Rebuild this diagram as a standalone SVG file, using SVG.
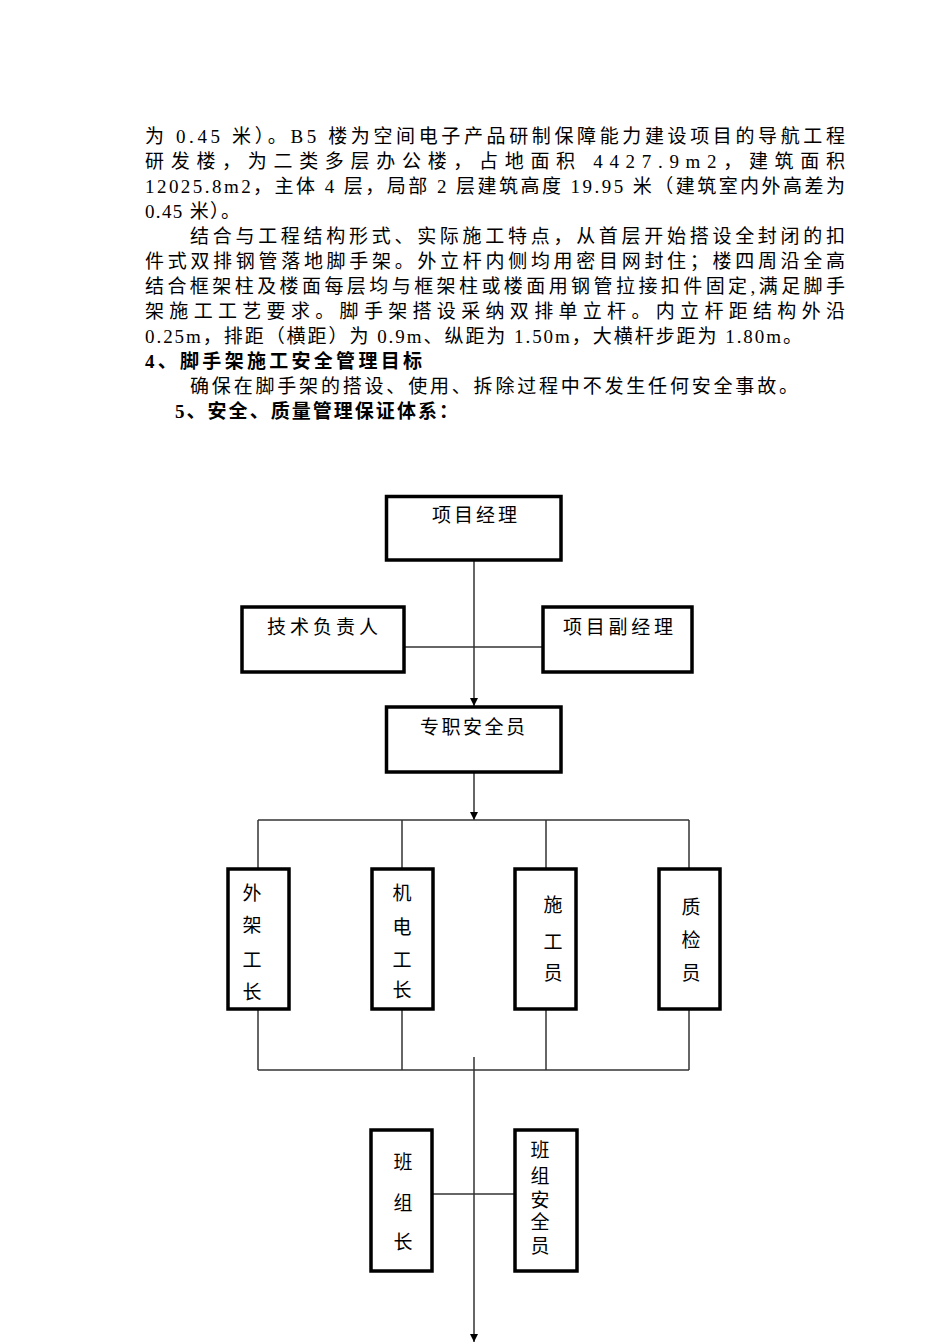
<svg xmlns="http://www.w3.org/2000/svg" width="950" height="1344" viewBox="0 0 950 1344">
<style>
.p{font-family:"Liberation Serif","Noto Sans CJK SC",serif;font-size:19px;fill:#000}
.b{font-weight:bold}
.n{fill:#fff;stroke:#000;stroke-width:3.5}
.t{font-family:"Liberation Serif","Noto Sans CJK SC",serif;font-size:19px;fill:#000}
.v{font-family:"Liberation Serif","Noto Sans CJK SC",serif;font-size:19px;fill:#000;text-anchor:middle}
.c{stroke:#333;stroke-width:1.5;fill:none}
</style>
<defs>
<marker id="ah" viewBox="0 0 10 10" refX="10" refY="5" markerWidth="8" markerHeight="8" markerUnits="userSpaceOnUse" orient="auto">
<path d="M0,0 L10,5 L0,10 Z" fill="#000"/>
</marker>
</defs>
<rect width="950" height="1344" fill="#fff"/>
<g id="body-text">
<text class="p" x="145" y="143" textLength="700" lengthAdjust="spacing">为 0.45 米）。B5 楼为空间电子产品研制保障能力建设项目的导航工程</text>
<text class="p" x="145" y="168" textLength="700" lengthAdjust="spacing">研发楼，为二类多层办公楼，占地面积 4427.9m2，建筑面积</text>
<text class="p" x="145" y="193" textLength="700" lengthAdjust="spacing">12025.8m2，主体 4 层，局部 2 层建筑高度 19.95 米（建筑室内外高差为</text>
<text class="p" x="145" y="218" textLength="95" lengthAdjust="spacing">0.45 米）。</text>
<text class="p" x="190" y="243" textLength="655" lengthAdjust="spacing">结合与工程结构形式、实际施工特点，从首层开始搭设全封闭的扣</text>
<text class="p" x="145" y="268" textLength="700" lengthAdjust="spacing">件式双排钢管落地脚手架。外立杆内侧均用密目网封住；楼四周沿全高</text>
<text class="p" x="145" y="293" textLength="700" lengthAdjust="spacing">结合框架柱及楼面每层均与框架柱或楼面用钢管拉接扣件固定,满足脚手</text>
<text class="p" x="145" y="318" textLength="700" lengthAdjust="spacing">架施工工艺要求。脚手架搭设采纳双排单立杆。内立杆距结构外沿</text>
<text class="p" x="145" y="343" textLength="657" lengthAdjust="spacing">0.25m，排距（横距）为 0.9m、纵距为 1.50m，大横杆步距为 1.80m。</text>
<text class="p b" x="145" y="368" textLength="277" lengthAdjust="spacing">4、脚手架施工安全管理目标</text>
<text class="p" x="190" y="393" textLength="608" lengthAdjust="spacing">确保在脚手架的搭设、使用、拆除过程中不发生任何安全事故。</text>
<text class="p b" x="175" y="418" textLength="283" lengthAdjust="spacing">5、安全、质量管理保证体系：</text>
</g>
<g id="connectors">
<line class="c" x1="474" y1="561" x2="474" y2="706" marker-end="url(#ah)"/>
<line class="c" x1="405" y1="647" x2="543" y2="647"/>
<line class="c" x1="474" y1="773" x2="474" y2="820" marker-end="url(#ah)"/>
<line class="c" x1="258" y1="820" x2="689" y2="820"/>
<line class="c" x1="258" y1="820" x2="258" y2="868"/>
<line class="c" x1="402" y1="820" x2="402" y2="868"/>
<line class="c" x1="546" y1="820" x2="546" y2="868"/>
<line class="c" x1="689" y1="820" x2="689" y2="868"/>
<line class="c" x1="258" y1="1010" x2="258" y2="1070"/>
<line class="c" x1="402" y1="1010" x2="402" y2="1070"/>
<line class="c" x1="546" y1="1010" x2="546" y2="1070"/>
<line class="c" x1="689" y1="1010" x2="689" y2="1070"/>
<line class="c" x1="258" y1="1070" x2="689" y2="1070"/>
<line class="c" x1="474" y1="1057" x2="474" y2="1342" marker-end="url(#ah)"/>
<line class="c" x1="433" y1="1194" x2="514" y2="1194"/>
</g>
<g id="n-xmjl">
<rect class="n" x="386.5" y="496.5" width="174.5" height="63.5"/>
<text class="t" x="432" y="522" textLength="85" lengthAdjust="spacing">项目经理</text>
</g>
<g id="n-jsfzr">
<rect class="n" x="242" y="607" width="162" height="65"/>
<text class="t" x="267" y="634" textLength="111" lengthAdjust="spacing">技术负责人</text>
</g>
<g id="n-xmfjl">
<rect class="n" x="543" y="607" width="149" height="65"/>
<text class="t" x="563" y="634" textLength="110" lengthAdjust="spacing">项目副经理</text>
</g>
<g id="n-zzaqy">
<rect class="n" x="386.5" y="707" width="174.5" height="65"/>
<text class="t" x="420" y="734" textLength="105" lengthAdjust="spacing">专职安全员</text>
</g>
<g id="n-wjgz">
<rect class="n" x="228" y="869" width="61" height="140"/>
<text class="v" x="252" y="900">外</text>
<text class="v" x="252" y="932">架</text>
<text class="v" x="252" y="967">工</text>
<text class="v" x="252" y="999">长</text>
</g>
<g id="n-jdgz">
<rect class="n" x="372" y="869" width="61" height="140"/>
<text class="v" x="402" y="900">机</text>
<text class="v" x="402" y="934">电</text>
<text class="v" x="402" y="967">工</text>
<text class="v" x="402" y="997">长</text>
</g>
<g id="n-sgy">
<rect class="n" x="515" y="869" width="61" height="140"/>
<text class="v" x="553" y="912">施</text>
<text class="v" x="553" y="949">工</text>
<text class="v" x="553" y="980">员</text>
</g>
<g id="n-zjy">
<rect class="n" x="659" y="869" width="61" height="140"/>
<text class="v" x="691" y="914">质</text>
<text class="v" x="691" y="947">检</text>
<text class="v" x="691" y="980">员</text>
</g>
<g id="n-bzz">
<rect class="n" x="371" y="1130" width="61" height="141"/>
<text class="v" x="403" y="1169">班</text>
<text class="v" x="403" y="1210">组</text>
<text class="v" x="403" y="1249">长</text>
</g>
<g id="n-bzaqy">
<rect class="n" x="515" y="1130" width="62" height="141"/>
<text class="v" x="540" y="1157">班</text>
<text class="v" x="540" y="1183">组</text>
<text class="v" x="540" y="1207">安</text>
<text class="v" x="540" y="1229">全</text>
<text class="v" x="540" y="1253">员</text>
</g>
</svg>
